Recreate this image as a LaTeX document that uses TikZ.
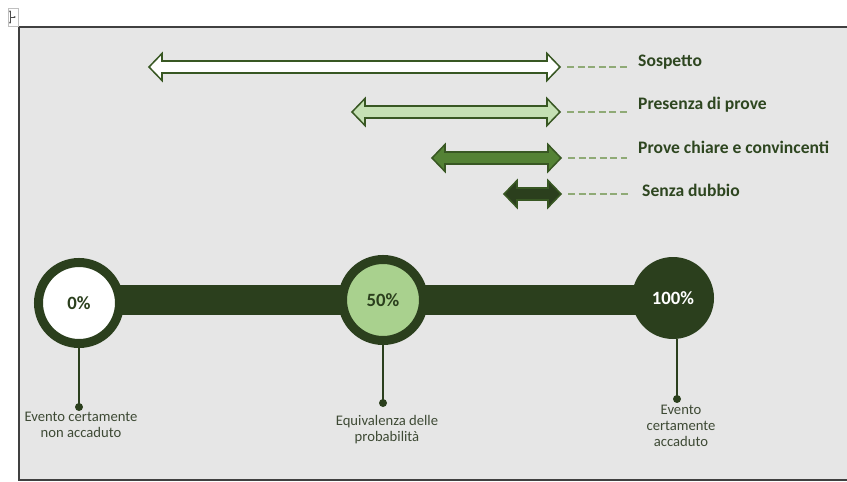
\documentclass[tikz,border=0pt]{standalone}
\usepackage{fontspec}
\setmainfont{Carlito}
\usetikzlibrary{arrows.meta,positioning,calc}
\definecolor{panel}{HTML}{E6E6E6}
\definecolor{frameline}{HTML}{404040}
\definecolor{forest}{HTML}{2B3F1D}
\definecolor{leaf}{HTML}{548235}
\definecolor{mint}{HTML}{C5E0B4}
\definecolor{sage}{HTML}{A9D18E}
\definecolor{edgegreen}{HTML}{385723}
\definecolor{dashgreen}{HTML}{8FAA76}
\definecolor{labeltext}{HTML}{2E4620}
\definecolor{notetext}{HTML}{3E4A35}

% double arrow: name, left x, right x, y, fill
\newcommand{\dblarrow}[5]{%
  \draw[edgegreen,line width=1.3pt,line join=miter,fill=#5]
    (#2,#4) -- ++(13,-13.5) -- ++(0,7.5) -- (#3-13,#4-6) -- ++(0,-7.5) -- (#3,#4)
    -- ++(-13,13.5) -- ++(0,-7.5) -- (#2+13,#4+6) -- ++(0,7.5) -- cycle;
  \coordinate (#1) at (#3,#4);}

\begin{document}
\begin{tikzpicture}[
  x=0.03cm,y=-0.03cm,
  lbl/.style={anchor=west,inner sep=0pt,text=labeltext,font=\fontsize{15}{18}\selectfont\bfseries},
  dashlink/.style={dashgreen,line width=0.9pt,dash pattern=on 6pt off 3pt},
  ring/.style={circle,draw=forest,line width=7.7pt,minimum size=2.43cm,inner sep=0pt,
    text=forest,font=\fontsize{16}{18}\selectfont\bfseries},
  note/.style={anchor=north,align=center,inner sep=0pt,text=notetext,font=\fontsize{12.5}{13.5}\selectfont},
  stem/.style={forest,line width=1.2pt},
]
  \useasboundingbox (0,0) rectangle (847,482);
  \fill[panel] (19,27) rectangle (847,480);
  \draw[frameline,line width=1.2pt] (847,27) -- (19,27) -- (19,480) -- (847,480);

  % move handle
  \draw[gray!50,line width=0.5pt] (8,8) rectangle (18,26);
  \draw[gray!60!black,line width=0.6pt,{Stealth[length=2pt]}-{Stealth[length=2pt]}] (10,10) -- (10,24);
  \draw[gray!60!black,line width=0.6pt,-{Stealth[length=2pt]}] (10,17) -- (16,17);

  % arrows
  \dblarrow{sosp}{149}{560}{67}{white}
  \dblarrow{pres}{352}{560}{112}{mint}
  \dblarrow{chia}{432}{561}{158}{leaf}
  \dblarrow{senz}{504}{561}{194}{forest}

  \node[lbl] (lsosp) at (638,62) {Sospetto};
  \node[lbl] (lpres) at (638,105) {Presenza di prove};
  \node[lbl] (lchia) at (638,147) {Prove chiare e convincenti};
  \node[lbl] (lsenz) at (642,190) {Senza dubbio};

  \foreach \a/\l in {sosp/lsosp,pres/lpres,chia/lchia,senz/lsenz}
    \draw[dashlink] ($(\a)+(7,0)$) -- ($(\a -| \l.west)+(-11,0)$);

  % scale
  \fill[forest] (79,285) rectangle (673,315);
  \node[ring,fill=white] (c0) at (79,303) {0\%};
  \node[ring,fill=sage] (c1) at (383,300) {50\%};
  \node[circle,fill=forest,minimum size=2.46cm,inner sep=0pt,text=white,
    font=\fontsize{16}{18}\selectfont\bfseries] (c2) at (673,298) {100\%};

  \coordinate (d0) at (79,407);
  \coordinate (d1) at (383,403);
  \coordinate (d2) at (677,399);
  \foreach \d/\c in {d0/c0,d1/c1,d2/c2}{
    \draw[stem] (\d) -- (\d |- \c.south);
    \fill[forest] (\d) circle (4);
  }

  \node[note] (t0) at (81,412) {Evento certamente\\non accaduto};
  \node[note] (t1) at (387,415) {Equivalenza delle\\probabilità};
  \node[note] (t2) at (681,405) {Evento\\certamente\\accaduto};
\end{tikzpicture}
\end{document}
